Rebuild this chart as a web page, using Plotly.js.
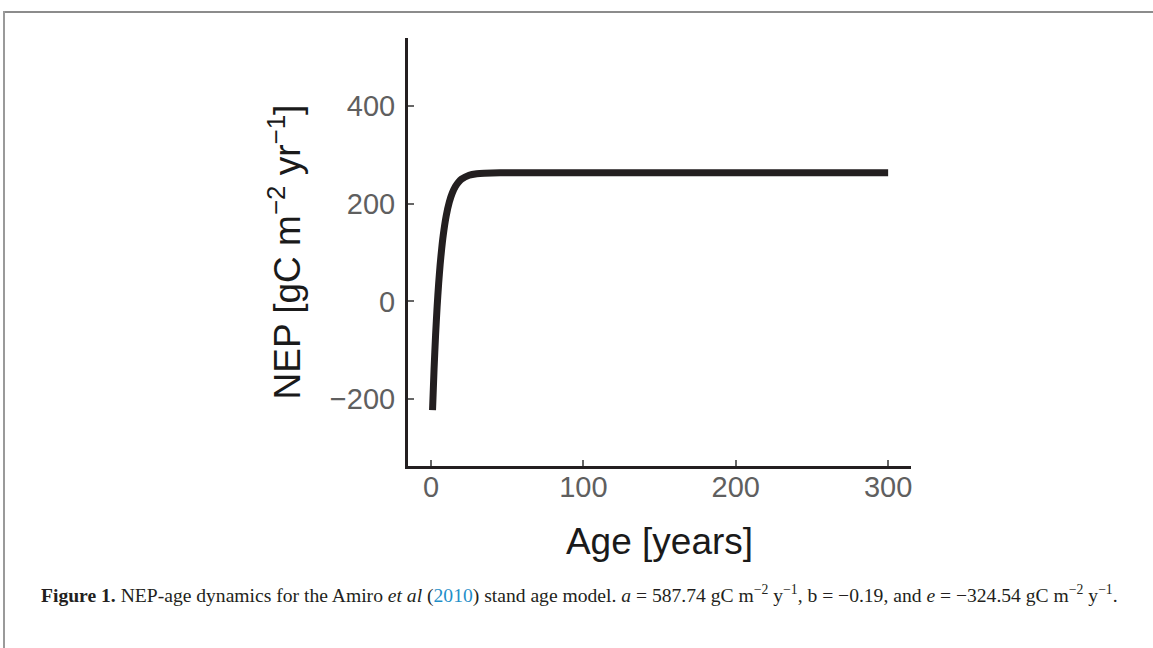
<!DOCTYPE html>
<html>
<head>
<meta charset="utf-8">
<script src="https://cdn.plot.ly/plotly-3.0.1.min.js"></script>
<style>
  html, body { margin: 0; padding: 0; background: #fff; }
  #wrap { position: relative; width: 1153px; height: 648px; overflow: hidden; }
  #frameTop { position: absolute; left: 4px; top: 11px; width: 1149px; height: 0; border-top: 2px solid #8c8c8c; }
  #frameLeft { position: absolute; left: 3px; top: 11px; width: 0; height: 637px; border-left: 2px solid #9a9a9a; }
  #chart { position: absolute; left: 0; top: 0; width: 1153px; height: 648px; }
</style>
</head>
<body>
<div id="wrap">
  <div id="chart"></div>
  <div id="frameTop"></div>
  <div id="frameLeft"></div>
</div>
<script>
// Stand age (years) and NEP (gC m-2 yr-1)
const age = [1, 2, 3, 4, 5, 6, 7, 8, 10, 12, 14, 16, 18, 20, 25, 30, 35, 40, 50, 75, 100, 150, 200, 250, 300];
const nep = [-222.8, -138.8, -69.2, -11.7, 35.9, 75.3, 107.7, 134.7, 175.3, 203.0, 222.0, 235.0, 243.9, 250.0, 258.1, 261.2, 262.4, 262.9, 263.2, 263.2, 263.2, 263.2, 263.2, 263.2, 263.2];
const xTicks = [0, 100, 200, 300];
const yTicks = [-200, 0, 200, 400];

const caption = '<b>Figure 1.</b> NEP-age dynamics for the Amiro <i>et al</i> (<span style="color:#1f8fc9">2010</span>) stand age model. ' +
  '<i>a</i> = 587.74 gC m<sup>−2</sup> y<sup>−1</sup>, b = −0.19, and <i>e</i> = −324.54 gC m<sup>−2</sup> y<sup>−1</sup>.';

const trace = {
  x: age, y: nep, type: 'scatter', mode: 'lines',
  line: { color: '#231f20', width: 7, shape: 'spline', smoothing: 0.6 },
  hoverinfo: 'x+y', showlegend: false
};

const axisCommon = {
  showgrid: false, zeroline: false, showline: true, linecolor: '#231f20', linewidth: 3,
  ticks: 'inside', ticklen: 6, tickwidth: 2, tickcolor: '#666666',
  tickfont: { family: 'Liberation Sans, Arial, sans-serif', size: 29, color: '#5f5f5f' },
  automargin: false, mirror: false
};

const layout = {
  width: 1153, height: 648,
  margin: { l: 408, r: 242, t: 38, b: 182 },
  paper_bgcolor: '#ffffff', plot_bgcolor: '#ffffff',
  xaxis: Object.assign({}, axisCommon, {
    range: [-15.1, 315], tickvals: xTicks, ticktext: xTicks.map(String), ticklabelstandoff: -7,
    title: { text: 'Age [years]', font: { family: 'Liberation Sans, Arial, sans-serif', size: 37, color: '#1a1a1a' }, standoff: 27 }
  }),
  yaxis: Object.assign({}, axisCommon, {
    range: [-337, 539], tickvals: yTicks, ticktext: yTicks.map(v => v < 0 ? '−' + Math.abs(v) : String(v)), ticklabelstandoff: 4,
    title: { text: 'NEP [gC m<sup>−2</sup> yr<sup>−1</sup>]', font: { family: 'Liberation Sans, Arial, sans-serif', size: 37, color: '#1a1a1a' }, standoff: 18 }
  }),
  annotations: [{
    xref: 'paper', yref: 'paper', x: (579 - 408) / 503, y: (466 - 594) / 428,
    xanchor: 'center', yanchor: 'middle', showarrow: false, text: caption,
    font: { family: 'Liberation Serif, Times New Roman, serif', size: 19.6, color: '#231f20' }
  }]
};

Plotly.newPlot('chart', [trace], layout, { staticPlot: true, displayModeBar: false });
</script>
</body>
</html>
